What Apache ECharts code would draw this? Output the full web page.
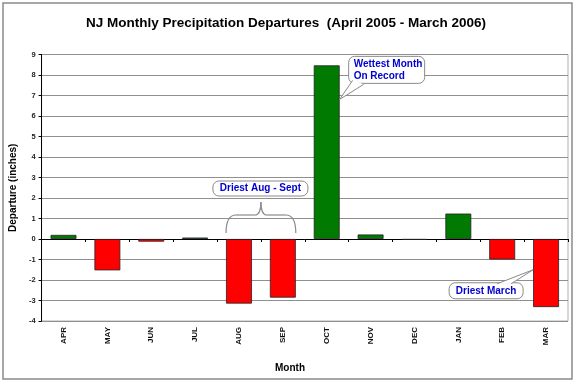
<!DOCTYPE html>
<html><head><meta charset="utf-8">
<script src="https://cdn.jsdelivr.net/npm/echarts@6/dist/echarts.min.js"></script>
<style>html,body{margin:0;padding:0;background:#fff}#c{width:575px;height:383px}</style>
</head><body><div id="c"></div>
<script>
const months = ['APR','MAY','JUN','JUL','AUG','SEP','OCT','NOV','DEC','JAN','FEB','MAR'];
const departures = [0.2, -1.53, -0.13, 0.07, -3.15, -2.86, 8.47, 0.22, -0.04, 1.24, -1.0, -3.32];
const yMin = -4, yMax = 9, yStep = 1;
const titleText = 'NJ Monthly Precipitation Departures  (April 2005 - March 2006)';
const yName = 'Departure (inches)';
const xName = 'Month';
const noteWet = 'Wettest Month\nOn Record';
const noteAugSep = 'Driest Aug - Sept';
const noteMar = 'Driest March';

(function () {
const FONT = '"Liberation Sans", Arial, sans-serif';
const chart = echarts.init(document.getElementById('c'), null, {renderer: 'canvas'});

const option = {
  animation: false,
  backgroundColor: '#fff',
  title: {
    text: titleText, left: 281, top: 11, textAlign: 'center',
    textStyle: {fontFamily: FONT, fontSize: 13.5, fontWeight: 'bold', color: '#000'}
  },
  grid: {left: 39, right: 7, top: 54.5, bottom: 62, show: true, borderColor: '#b0b0b0', borderWidth: 1},
  xAxis: [{
    type: 'category', data: months, position: 'bottom',
    axisLine: {onZero: true, lineStyle: {color: '#000', width: 1}},
    axisTick: {show: true, length: 3, inside: false, lineStyle: {color: '#000'}},
    axisLabel: {show: false}, splitLine: {show: false}
  }, {
    type: 'category', data: months, position: 'bottom',
    axisLine: {show: false, onZero: false}, axisTick: {show: false},
    axisLabel: {show: true, rotate: 90, margin: 6, fontFamily: FONT, fontSize: 8, fontWeight: 'bold', color: '#111'}
  }],
  yAxis: {
    type: 'value', min: yMin, max: yMax, interval: yStep,
    name: yName, nameLocation: 'middle', nameGap: 22, nameRotate: 90,
    nameTextStyle: {fontFamily: FONT, fontSize: 10, fontWeight: 'bold', color: '#000'},
    axisLine: {show: true, lineStyle: {color: '#000', width: 1}},
    axisTick: {show: true, length: 3, lineStyle: {color: '#000'}},
    axisLabel: {fontFamily: FONT, fontSize: 7.5, fontWeight: 'bold', color: '#222', margin: 6},
    splitLine: {show: true, lineStyle: {color: '#8f8f8f', width: 1.2}}
  },
  series: [{
    type: 'bar', xAxisIndex: 0, yAxisIndex: 0, data: departures,
    barCategoryGap: '41%',
    itemStyle: {
      color: p => p.value >= 0 ? '#007a00' : '#ff0000',
      borderColor: '#222', borderWidth: 0.8
    }
  }]
};
chart.setOption(option);

const px = (c, v) => chart.convertToPixel({seriesIndex: 0}, [c, v]);
const band = px(1, 0)[0] - px(0, 0)[0];
const half = band * 0.59 / 2;
const textStyleNote = {fontFamily: FONT, fontSize: 10, fontWeight: 'bold', fill: '#0000d0'};
const boxStroke = '#8a8a8a';
const g = [];

g.push({type: 'rect', shape: {x: 3, y: 3, width: 569, height: 376}, style: {fill: 'none', stroke: '#8a8a8a', lineWidth: 1.5}, z: 0});
g.push({type: 'text', x: 290, y: 368, style: {text: xName, font: 'bold 10px ' + FONT, fill: '#000', align: 'center', verticalAlign: 'middle'}});

function callout(bx, by, bw, bh, text, ptr, leftAlign) {
  g.push({type: 'rect', shape: {x: bx, y: by, width: bw, height: bh, r: 6}, style: {fill: '#fff', stroke: boxStroke, lineWidth: 1}, z: 100});
  if (ptr) {
    g.push({type: 'polygon', shape: {points: [ptr.a, ptr.b, ptr.tip]}, style: {fill: '#fff', stroke: null}, z: 101});
    g.push({type: 'polyline', shape: {points: [ptr.a, ptr.tip, ptr.b]}, style: {stroke: boxStroke, lineWidth: 1, fill: null}, z: 102});
  }
  g.push({type: 'text', x: leftAlign ? bx + 5 : bx + bw / 2, y: by + bh / 2,
    style: Object.assign({text: text, align: leftAlign ? 'left' : 'center', verticalAlign: 'middle', lineHeight: 12}, textStyleNote), z: 103});
}

const oct = px(6, departures[6]);
const tipW = [oct[0] + half, oct[1] + 34];
callout(tipW[0] + 9, tipW[1] - 43, 76, 27, noteWet, {a: [tipW[0] + 13, tipW[1] - 19], b: [tipW[0] + 24, tipW[1] - 15], tip: tipW}, true);

const aug = px(4, 0), sep = px(5, 0);
const L = aug[0] - half, R = sep[0] + half, C = (aug[0] + sep[0]) / 2;
const yBot = aug[1] - 6, yTop = aug[1] - 24, yPeak = aug[1] - 37;
const braceStyle = {stroke: '#8a8a8a', lineWidth: 1.2, fill: null};
g.push({type: 'bezierCurve', shape: {x1: L, y1: yBot, cpx1: L, cpy1: yTop, x2: L + 10, y2: yTop}, style: braceStyle});
g.push({type: 'line', shape: {x1: L + 10, y1: yTop, x2: C - 6, y2: yTop}, style: braceStyle});
g.push({type: 'bezierCurve', shape: {x1: C - 6, y1: yTop, cpx1: C, cpy1: yTop, x2: C, y2: yPeak}, style: braceStyle});
g.push({type: 'bezierCurve', shape: {x1: C, y1: yPeak, cpx1: C, cpy1: yTop, x2: C + 6, y2: yTop}, style: braceStyle});
g.push({type: 'line', shape: {x1: C + 6, y1: yTop, x2: R - 10, y2: yTop}, style: braceStyle});
g.push({type: 'bezierCurve', shape: {x1: R - 10, y1: yTop, cpx1: R, cpy1: yTop, x2: R, y2: yBot}, style: braceStyle});
callout(C - 48, yPeak - 21, 95, 15, noteAugSep, null, false);

const mar = px(11, -1.5);
const tipM = [mar[0] - half, mar[1]];
callout(tipM[0] - 84, tipM[1] + 13, 74, 16, noteMar, {a: [tipM[0] - 36, tipM[1] + 14], b: [tipM[0] - 22, tipM[1] + 14], tip: tipM}, false);

chart.setOption({graphic: g});
})();
</script>
</body></html>
